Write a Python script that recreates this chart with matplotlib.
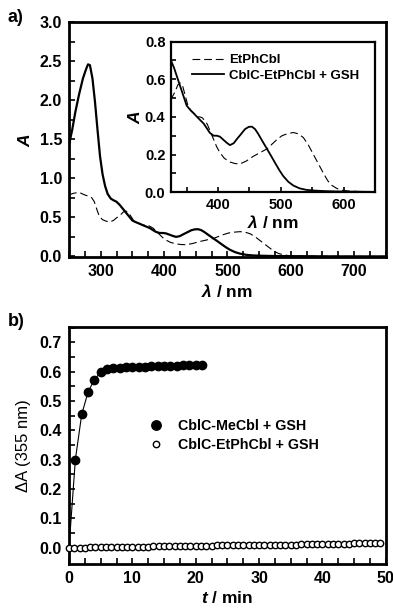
import numpy as np
import matplotlib
matplotlib.use("Agg")
import matplotlib.pyplot as plt
from matplotlib.lines import Line2D

plt.rcParams["font.family"] = ["Liberation Sans", "DejaVu Sans"]
plt.rcParams["font.weight"] = "bold"
plt.rcParams["axes.labelweight"] = "bold"
plt.rcParams["mathtext.fontset"] = "custom"
plt.rcParams["mathtext.rm"] = "Liberation Sans:bold"
plt.rcParams["mathtext.it"] = "Liberation Sans:italic:bold"

# ------------------------------
#   Spectra (panel a + inset)
# ------------------------------
solid_nm = [250, 255, 260, 266, 272, 277, 280, 283, 287, 291, 295, 299, 303, 307, 311,
            316, 320, 325, 330, 334, 340, 345, 350, 355, 361, 368, 377, 387, 393, 398,
            403, 408, 414, 419, 425, 430, 437, 443, 449, 454, 459, 464, 470, 478, 485,
            491, 498, 504, 512, 520, 530, 541, 555, 573, 600, 627, 650, 700, 750]
solid_A = [1.43, 1.62, 1.85, 2.08, 2.28, 2.40, 2.46, 2.45, 2.28, 1.98, 1.62, 1.28, 1.05, 0.90, 0.80,
           0.74, 0.72, 0.70, 0.66, 0.62, 0.56, 0.51, 0.46, 0.44, 0.42, 0.395, 0.365, 0.315, 0.30, 0.30,
           0.295, 0.28, 0.262, 0.25, 0.26, 0.282, 0.31, 0.335, 0.347, 0.348, 0.335, 0.31, 0.275, 0.23, 0.19,
           0.155, 0.115, 0.085, 0.055, 0.035, 0.02, 0.012, 0.008, 0.005, 0.003, 0.002, 0.001, 0.0, 0.0]

dash_nm = [250, 258, 266, 274, 281, 286, 290, 294, 298, 303, 309, 314, 320, 326, 331,
           336, 340, 344, 348, 352, 357, 361, 366, 371, 375, 379, 383, 388, 393, 398,
           403, 410, 419, 427, 435, 445, 456, 467, 478, 486, 494, 502, 510, 520, 528,
           536, 544, 552, 560, 568, 575, 581, 589, 597, 610, 627, 650, 700, 750]
dash_A = [0.79, 0.81, 0.82, 0.79, 0.77, 0.75, 0.70, 0.60, 0.51, 0.47, 0.45, 0.44, 0.46, 0.50, 0.53,
          0.57, 0.58, 0.56, 0.51, 0.46, 0.43, 0.42, 0.40, 0.40, 0.395, 0.38, 0.36, 0.32, 0.28, 0.24,
          0.21, 0.18, 0.16, 0.152, 0.15, 0.165, 0.19, 0.21, 0.23, 0.255, 0.28, 0.30, 0.31, 0.317, 0.31,
          0.29, 0.25, 0.20, 0.15, 0.10, 0.06, 0.037, 0.02, 0.01, 0.005, 0.003, 0.001, 0.0, 0.0]

# ------------------------------
#   Kinetics (panel b)
# ------------------------------
t_me = list(range(1, 22))
dA_me = [0.300, 0.454, 0.530, 0.573, 0.598, 0.608, 0.612, 0.614, 0.615, 0.616, 0.617,
         0.617, 0.618, 0.618, 0.619, 0.620, 0.620, 0.621, 0.621, 0.622, 0.623]

# EtPhCbl trace sampled every 50 s
t_et = np.arange(60) * 50 / 60
dA_et = [0.000, 0.001, 0.001, 0.001, 0.002, 0.002, 0.002, 0.002, 0.003, 0.003,
         0.003, 0.003, 0.004, 0.004, 0.004, 0.004, 0.005, 0.005, 0.005, 0.005,
         0.006, 0.006, 0.006, 0.006, 0.007, 0.007, 0.007, 0.007, 0.008, 0.008,
         0.008, 0.008, 0.009, 0.009, 0.009, 0.009, 0.010, 0.010, 0.010, 0.010,
         0.011, 0.011, 0.011, 0.011, 0.012, 0.012, 0.012, 0.012, 0.013, 0.013,
         0.013, 0.014, 0.014, 0.014, 0.015, 0.015, 0.015, 0.016, 0.016, 0.016]


def style_axes(ax, lw=2.0, tl=4.0):
    for s in ax.spines.values():
        s.set_linewidth(lw)
    ax.tick_params(which="both", direction="in", width=1.2, top=False, right=False)
    ax.tick_params(which="major", length=tl)
    ax.tick_params(which="minor", length=tl)


fig = plt.figure(figsize=(3.93, 6.08), dpi=100)

# ------------------------------
#   Panel a
# ------------------------------
ax1 = fig.add_axes([0.1756, 0.577, 0.806, 0.3865])
ax1.plot(solid_nm, solid_A, color="black", lw=1.6)
ax1.plot(dash_nm, dash_A, color="black", lw=0.8, dashes=(7, 3.5))
ax1.set_xlim(250, 750)
ax1.set_ylim(-0.01, 3.0)
ax1.set_xticks([300, 400, 500, 600, 700])
ax1.set_xticks(np.arange(250, 751, 25), minor=True)
ax1.set_yticks(np.arange(0, 3.01, 0.5))
ax1.set_yticks(np.arange(0, 3.01, 0.25), minor=True)
ax1.set_yticklabels([f"{v:.1f}" for v in np.arange(0, 3.01, 0.5)])
ax1.tick_params(labelsize=11.5, pad=5)
style_axes(ax1)
ax1.set_xlabel("$\\mathit{λ}$ / nm", fontsize=12.5, labelpad=3)
ax1.set_ylabel("$\\mathit{A}$", fontsize=12.5, labelpad=5)
fig.text(0.02, 0.972, "a)", fontsize=13, fontweight="bold", va="center")

# inset
ax2 = fig.add_axes([0.435, 0.684, 0.519, 0.2475])
ax2.plot(dash_nm, dash_A, color="black", lw=0.8, dashes=(7, 3.5), label="EtPhCbl")
ax2.plot(solid_nm, solid_A, color="black", lw=1.3, label="CblC-EtPhCbl + GSH")
ax2.set_xlim(325, 650)
ax2.set_ylim(0, 0.8)
ax2.set_xticks([400, 500, 600])
ax2.set_xticks(np.arange(350, 651, 50), minor=True)
ax2.set_yticks(np.arange(0, 0.81, 0.2))
ax2.set_yticks(np.arange(0, 0.81, 0.1), minor=True)
ax2.set_yticklabels([f"{v:.1f}" for v in np.arange(0, 0.81, 0.2)])
ax2.tick_params(labelsize=10.5, pad=4)
style_axes(ax2, lw=1.6, tl=3.5)
ax2.set_xlabel("$\\mathit{λ}$ / nm", fontsize=12.5, labelpad=2)
ax2.set_ylabel("$\\mathit{A}$", fontsize=12.5, labelpad=1)
ax2.legend(loc="upper left", bbox_to_anchor=(0.06, 0.98), frameon=False,
           fontsize=9.5, handlelength=2.4, handletextpad=0.4, labelspacing=0.25,
           borderpad=0.2)

# ------------------------------
#   Panel b
# ------------------------------
ax3 = fig.add_axes([0.1756, 0.0724, 0.806, 0.3898])
ax3.plot([0] + t_me, [0.0] + dA_me, color="black", lw=0.8)
ax3.plot(t_me, dA_me, "o", color="black", ms=6.0)
ax3.plot(t_et, dA_et, "o", mfc="white", mec="black", mew=1.0, ms=4.6,
         clip_on=False, zorder=4)
ax3.set_xlim(0, 50)
ax3.set_ylim(-0.055, 0.752)
ax3.set_xticks(np.arange(0, 51, 10))
ax3.set_xticks(np.arange(0, 50.1, 2.5), minor=True)
ax3.set_yticks(np.arange(0, 0.71, 0.1))
ax3.set_yticks(np.arange(0, 0.751, 0.05), minor=True)
ax3.set_yticklabels([f"{v:.1f}" for v in np.arange(0, 0.71, 0.1)])
ax3.tick_params(labelsize=11.5, pad=5)
style_axes(ax3)
ax3.set_xlabel("$\\mathit{t}$ / min", fontsize=12.5, labelpad=3)
ax3.set_ylabel("ΔA (355 nm)", fontsize=12, fontweight="normal", labelpad=6)
fig.text(0.02, 0.472, "b)", fontsize=13, fontweight="bold", va="center")

handles = [Line2D([], [], ls="", marker="o", color="black", ms=6.8),
           Line2D([], [], ls="", marker="o", mfc="white", mec="black", mew=1.0, ms=4.6)]
ax3.legend(handles, ["CblC-MeCbl + GSH", "CblC-EtPhCbl + GSH"], loc="upper left",
           bbox_to_anchor=(0.19, 0.665), frameon=False, fontsize=10.3,
           handletextpad=0.5, labelspacing=0.35)

fig.savefig("out.png", dpi=100)
